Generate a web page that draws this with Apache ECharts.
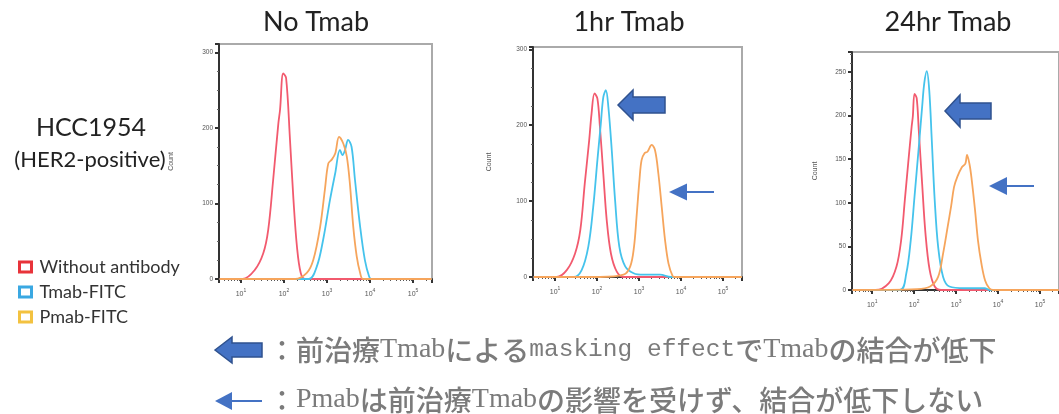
<!DOCTYPE html>
<html><head><meta charset="utf-8">
<script src="https://cdn.jsdelivr.net/npm/echarts@6/dist/echarts.min.js"></script>
<style>html,body{margin:0;padding:0;background:#fff}#c{width:1059px;height:414px}</style>
</head><body><div id="c"></div>
<script>
// ---------- labels ----------
const panelTitles = ['No Tmab', '1hr Tmab', '24hr Tmab'];
const seriesNames = ['Without antibody', 'Tmab-FITC', 'Pmab-FITC'];
const xTickExponents = ['1', '2', '3', '4', '5'];
const cellLine = 'HCC1954';
const cellSubtype = '(HER2-positive)';
const yAxisName = 'Count';

// ---------- data: [fluorescence intensity, count] ----------
const noTmabWithout = [[3.2,0],[11,0],[21,12],[33,34],[43,65],[56,131],[74,206],[81,224],[96,272],[112,266],[138,184],[166,105],[200,43],[245,8],[309,0],[270000,0]];
const noTmabTmab = [[3.2,0],[372,0],[575,16],[813,52],[1175,105],[1549,140],[1995,171],[2291,164],[2630,171],[3090,184],[3715,175],[4467,131],[5888,69],[7586,25],[9550,3],[10700,0],[270000,0]];
const noTmabPmab = [[3.2,0],[182,0],[339,8],[479,25],[692,69],[891,118],[1072,153],[1288,158],[1549,166],[1905,188],[2399,179],[2884,162],[3388,127],[4074,69],[4898,30],[5888,8],[6918,0],[270000,0]];

const hr1Without = [[3.1,0],[11,0],[19,9],[30,31],[40,62],[51,123],[65,180],[74,215],[87,242],[102,235],[117,198],[141,136],[170,75],[214,31],[295,7],[427,0],[280000,0]];
const hr1Tmab = [[3.1,0],[28,0],[43,9],[62,40],[81,92],[102,154],[123,202],[141,237],[162,246],[186,224],[224,167],[269,101],[339,40],[468,14],[741,5],[1259,3],[3162,3],[5754,0],[280000,0]];
const hr1Pmab = [[3.1,0],[117,0],[427,3],[617,14],[759,40],[871,79],[1023,128],[1148,154],[1349,163],[1585,165],[1995,174],[2399,167],[2884,136],[3467,92],[4169,48],[5012,18],[6310,1],[7079,0],[280000,0]];

const hr24Without = [[3.4,0],[12,0],[25,8],[38,27],[49,57],[60,103],[72,145],[87,187],[93,199],[102,225],[115,220],[129,183],[155,122],[186,65],[234,23],[309,4],[437,0],[280000,0]];
const hr24Tmab = [[3.4,0],[46,0],[65,19],[83,57],[102,107],[129,164],[155,210],[174,237],[200,251],[229,229],[263,172],[309,103],[372,50],[490,15],[692,4],[1585,2],[4786,2],[6310,0],[280000,0]];
const hr24Pmab = [[3.4,0],[117,1],[240,4],[372,15],[490,42],[631,73],[759,96],[891,118],[1072,130],[1380,141],[1660,145],[1820,155],[2089,144],[2344,127],[2818,92],[3311,57],[3981,31],[4898,11],[6166,2],[7586,0],[280000,0]];

const panelData = [
  [noTmabWithout, noTmabTmab, noTmabPmab],
  [hr1Without, hr1Tmab, hr1Pmab],
  [hr24Without, hr24Tmab, hr24Pmab]
];

// ---------- layout / style ----------
const lineColors = ['#f25a6e', '#45c3ec', '#f6a55c'];
const legendColors = ['#e8333a', '#3aa8e2', '#f3c240'];
const grids = [
  {left: 219, right: 627, top: 44, bottom: 135},
  {left: 533, right: 317, top: 47, bottom: 137},
  {left: 852, right: -8, top: 52, bottom: 124}
];
const xExtents = [[3.09, 275000], [2.99, 282000], [3.31, 282000]];
const yMax = [311, 303, 273];
const yInterval = [100, 100, 50];
const yMinorSplit = [4, 4, 5];
const nameGaps = [44, 40, 33];
const titleCenters = [[316, 22], [629, 22], [948, 22]];

const axisColor = '#333';
const xAxes = [], yAxes = [], series = [];
for (let i = 0; i < 3; i++) {
  xAxes.push({
    type: 'log', logBase: 10, gridIndex: i, min: xExtents[i][0], max: xExtents[i][1],
    axisLine: {show: true, lineStyle: {color: axisColor, width: 2}},
    axisTick: {show: true, length: 4, lineStyle: {color: axisColor, width: 2}},
    minorTick: {show: true, splitNumber: 9, length: 2, lineStyle: {color: '#555', width: 1}},
    splitLine: {show: false}, minorSplitLine: {show: false},
    axisLabel: {
      showMinLabel: false, showMaxLabel: false, margin: 9, color: '#555',
      formatter: function (v) {
        const e = Math.log10(v);
        const r = Math.round(e);
        if (Math.abs(e - r) > 1e-6 || r < 1 || r > 5) return '';
        return '{b|10}{s|' + xTickExponents[r - 1] + '}';
      },
      rich: {
        b: {fontSize: 7, color: '#555', verticalAlign: 'bottom'},
        s: {fontSize: 5, color: '#555', verticalAlign: 'bottom', padding: [0, 0, 5, 0]}
      }
    }
  });
  yAxes.push({
    type: 'value', gridIndex: i, min: 0, max: yMax[i], interval: yInterval[i],
    name: yAxisName, nameLocation: 'middle', nameGap: nameGaps[i],
    nameTextStyle: {fontSize: 7, color: '#555', fontFamily: 'Liberation Sans'},
    axisLine: {show: true, lineStyle: {color: axisColor, width: 2}},
    axisTick: {show: true, length: 4, lineStyle: {color: axisColor, width: 2}},
    minorTick: {show: true, splitNumber: yMinorSplit[i], length: 2, lineStyle: {color: '#666', width: 1}},
    splitLine: {show: false},
    axisLabel: {showMaxLabel: false, fontSize: 6.5, color: '#555', margin: 6}
  });
  for (let s = 0; s < 3; s++) {
    series.push({
      name: seriesNames[s], type: 'line', xAxisIndex: i, yAxisIndex: i,
      data: panelData[i][s], smooth: 0.35, symbol: 'none',
      lineStyle: {color: lineColors[s], width: 1.8},
      itemStyle: {color: lineColors[s]},
      animation: false, z: 3 + s
    });
  }
}

function blockArrow(tipX, cy, headBaseX, endX, headH, shaftH) {
  return {
    type: 'polygon',
    shape: {points: [[tipX, cy], [headBaseX, cy - headH / 2], [headBaseX, cy - shaftH / 2], [endX, cy - shaftH / 2],
      [endX, cy + shaftH / 2], [headBaseX, cy + shaftH / 2], [headBaseX, cy + headH / 2]]},
    style: {fill: '#4472c4', stroke: '#2f528f', lineWidth: 1.5}, z: 10
  };
}
function thinArrow(tipX, cy, headBaseX, endX, halfH) {
  return [
    {type: 'polygon', shape: {points: [[tipX, cy], [headBaseX, cy - halfH], [headBaseX, cy + halfH]]},
      style: {fill: '#4472c4'}, z: 10},
    {type: 'line', shape: {x1: headBaseX - 1, y1: cy, x2: endX, y2: cy},
      style: {stroke: '#4472c4', lineWidth: 2}, z: 10}
  ];
}

const noteRich = {
  j: {fontFamily: 'Noto Sans CJK JP', fontSize: 28, fill: '#7b7b7b', fontWeight: 500},
  t: {fontFamily: 'Liberation Serif', fontSize: 28, fill: '#7b7b7b'},
  m: {fontFamily: 'Liberation Mono', fontSize: 24.5, fill: '#7b7b7b'}
};

const graphics = [];
for (let i = 0; i < 3; i++) {
  graphics.push({type: 'text', x: titleCenters[i][0], y: titleCenters[i][1],
    style: {text: panelTitles[i], align: 'center', verticalAlign: 'middle', fontFamily: 'Lato', fontSize: 27, fill: '#222'}});
}
graphics.push({type: 'text', x: 91, y: 128, style: {text: cellLine, align: 'center', verticalAlign: 'middle', fontFamily: 'Lato', fontSize: 25, fill: '#222'}});
graphics.push({type: 'text', x: 90, y: 160, style: {text: cellSubtype, align: 'center', verticalAlign: 'middle', fontFamily: 'Lato', fontSize: 22, fill: '#222'}});
graphics.push(blockArrow(618, 105, 633, 665, 30, 16));
graphics.push(blockArrow(945, 111, 960, 991, 32, 16));
graphics.push(...thinArrow(669, 192, 687, 714, 8.5));
graphics.push(...thinArrow(989, 186, 1007, 1034, 9));
graphics.push(blockArrow(215, 350, 232, 262, 26, 14));
graphics.push(...thinArrow(215, 401, 232, 262, 9));
graphics.push({type: 'text', x: 268, y: 350, style: {
  text: '{j|：前治療}{t|Tmab}{j|による}{m|masking effect}{j|で}{t|Tmab}{j|の結合が低下}',
  rich: noteRich, align: 'left', verticalAlign: 'middle'}});
graphics.push({type: 'text', x: 268, y: 400, style: {
  text: '{j|：}{t|Pmab}{j|は前治療}{t|Tmab}{j|の影響を受けず、結合が低下しない}',
  rich: noteRich, align: 'left', verticalAlign: 'middle'}});

const chart = echarts.init(document.getElementById('c'), null, {renderer: 'canvas'});
chart.setOption({
  backgroundColor: '#fff',
  animation: false,
  grid: grids.map(g => Object.assign({show: true, borderColor: '#aaa', borderWidth: 2, backgroundColor: 'transparent'}, g)),
  xAxis: xAxes,
  yAxis: yAxes,
  legend: {
    orient: 'vertical', left: 13, top: 253, itemGap: 7, itemWidth: 12, itemHeight: 10, icon: 'rect',
    selectedMode: false,
    textStyle: {fontFamily: 'Lato', fontSize: 18, color: '#333', padding: [0, 0, 0, 3]},
    data: seriesNames.map((n, k) => ({name: n, itemStyle: {color: 'transparent', borderColor: legendColors[k], borderWidth: 3}}))
  },
  graphic: graphics,
  series: series
});
</script></body></html>
